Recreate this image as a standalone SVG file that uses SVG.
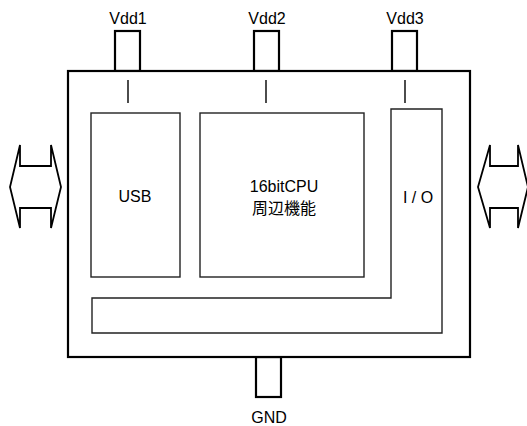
<svg xmlns="http://www.w3.org/2000/svg" width="527" height="426" viewBox="0 0 527 426">
<style>
.t{font-family:"Liberation Sans",Arial,sans-serif;font-size:16px;fill:#000;text-anchor:middle}
.j{font-family:"Liberation Sans","Noto Sans CJK JP",sans-serif}
.thick{fill:#fff;stroke:#000;stroke-width:2.2}
.arr{fill:#fff;stroke:#000;stroke-width:1.8;stroke-linejoin:miter}
.thin{fill:#fff;stroke:#222;stroke-width:1.4}
.tick{stroke:#000;stroke-width:1.4}
</style>
<rect width="527" height="426" fill="#fff"/>
<g id="pins">
<rect class="thick" x="115" y="31" width="25" height="40"/>
<rect class="thick" x="254" y="31" width="25" height="40"/>
<rect class="thick" x="392" y="31" width="25" height="40"/>
<rect class="thick" x="256" y="357" width="25" height="40"/>
</g>
<g id="chip">
<rect class="thick" x="68" y="71" width="402" height="286"/>
</g>
<g id="connectors">
<line class="tick" x1="128" y1="80" x2="128" y2="103"/>
<line class="tick" x1="266" y1="80" x2="266" y2="103"/>
<line class="tick" x1="405" y1="80" x2="405" y2="103"/>
</g>
<g id="usb">
<rect class="thin" x="91" y="113" width="89" height="164"/>
<text class="t" x="135" y="202">USB</text>
</g>
<g id="cpu">
<rect class="thin" x="200" y="113" width="164" height="164"/>
<text class="t j" x="284" y="192">16bitCPU</text>
<text class="t j" x="284" y="214">周辺機能</text>
</g>
<g id="io">
<path class="thin" d="M391,109 L442,109 L442,333 L92,333 L92,298 L391,298 Z"/>
<text class="t" x="418" y="203">I / O</text>
</g>
<g id="arrow-left">
<path class="arr" d="M20,145 L20,166 L51,166 L51,145 L61,187 L51,228 L51,208 L20,208 L20,228 L10,187 Z"/>
</g>
<g id="arrow-right">
<path class="arr" d="M490,145 L490,166 L518,166 L518,145 L528,187 L518,228 L518,208 L490,208 L490,228 L478,187 Z"/>
</g>
<g id="labels">
<text class="t" x="128" y="24">Vdd1</text>
<text class="t" x="267" y="24">Vdd2</text>
<text class="t" x="405" y="24">Vdd3</text>
<text class="t" x="269" y="423">GND</text>
</g>
</svg>
